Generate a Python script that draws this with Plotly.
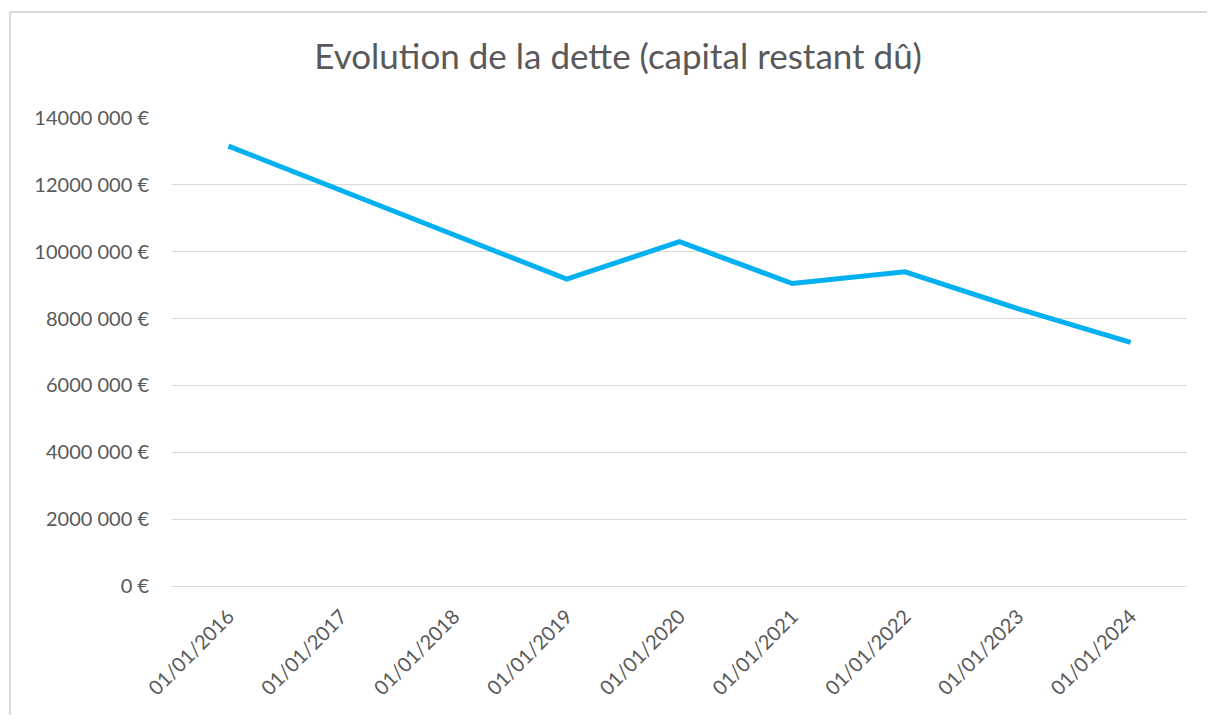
import plotly.graph_objects as go

# Data
dates = ["01/01/2016", "01/01/2017", "01/01/2018", "01/01/2019", "01/01/2020",
         "01/01/2021", "01/01/2022", "01/01/2023", "01/01/2024"]
capital_restant = [13160000, 11830000, 10500000, 9180000, 10300000,
                   9050000, 9400000, 8300000, 7290000]
y_tick_values = [0, 2000000, 4000000, 6000000, 8000000, 10000000, 12000000, 14000000]
y_tick_labels = ["0 €", "2000 000 €", "4000 000 €", "6000 000 €", "8000 000 €",
                 "10000 000 €", "12000 000 €", "14000 000 €"]

# page has an 8px body margin; keep the figure inside the window
OFF = 8
W, H = 1215 - 2 * OFF, 723 - 2 * OFF
L, T = 172 - OFF, 118 - OFF
R = W - (1187 - OFF)
B = H - (586 - OFF)
pw, ph = W - L - R, H - T - B

def px_x(px):
    return (px - OFF - L) / pw

def px_y(py):
    return (H - B - (py - OFF)) / ph

FONT = "Lato, 'Open Sans', sans-serif"
TXT = "#595959"
GRID = "#d9d9d9"

fig = go.Figure()
fig.add_trace(go.Scatter(
    x=dates, y=capital_restant, mode="lines",
    line=dict(color="#00B0F0", width=5),
    hoverinfo="x+y", showlegend=False,
))

fig.update_layout(
    width=W, height=H,
    margin=dict(l=L, r=R, t=T, b=B),
    paper_bgcolor="white", plot_bgcolor="white",
    font=dict(family=FONT, color=TXT),
    title=dict(text="Evolution de la dette (capital restant dû)",
               font=dict(family=FONT, size=35, color=TXT),
               x=(618 - OFF) / W, xanchor="center", xref="container",
               y=1 - (57 - OFF) / H, yanchor="middle", yref="container"),
    xaxis=dict(type="category", range=[-0.5, len(dates) - 0.5], tickangle=-45,
               showgrid=False, showline=False, zeroline=False, ticks="",
               ticklabelstandoff=14,
               tickfont=dict(family=FONT, size=20, color=TXT)),
    yaxis=dict(range=[0, 14000000], tickvals=y_tick_values, ticktext=y_tick_labels,
               showgrid=True, gridcolor=GRID, gridwidth=1.3,
               zeroline=True, zerolinecolor=GRID, zerolinewidth=1.3,
               showline=False, ticks="", ticklabelstandoff=22,
               tickfont=dict(family=FONT, size=20, color=TXT)),
    shapes=[
        dict(type="line", xref="paper", yref="paper",
             x0=px_x(10), x1=px_x(10), y0=px_y(12), y1=px_y(720),
             line=dict(color=GRID, width=2)),
        dict(type="line", xref="paper", yref="paper",
             x0=px_x(10), x1=px_x(1212), y0=px_y(12), y1=px_y(12),
             line=dict(color=GRID, width=2)),
    ],
)

fig.write_html("out.html")
